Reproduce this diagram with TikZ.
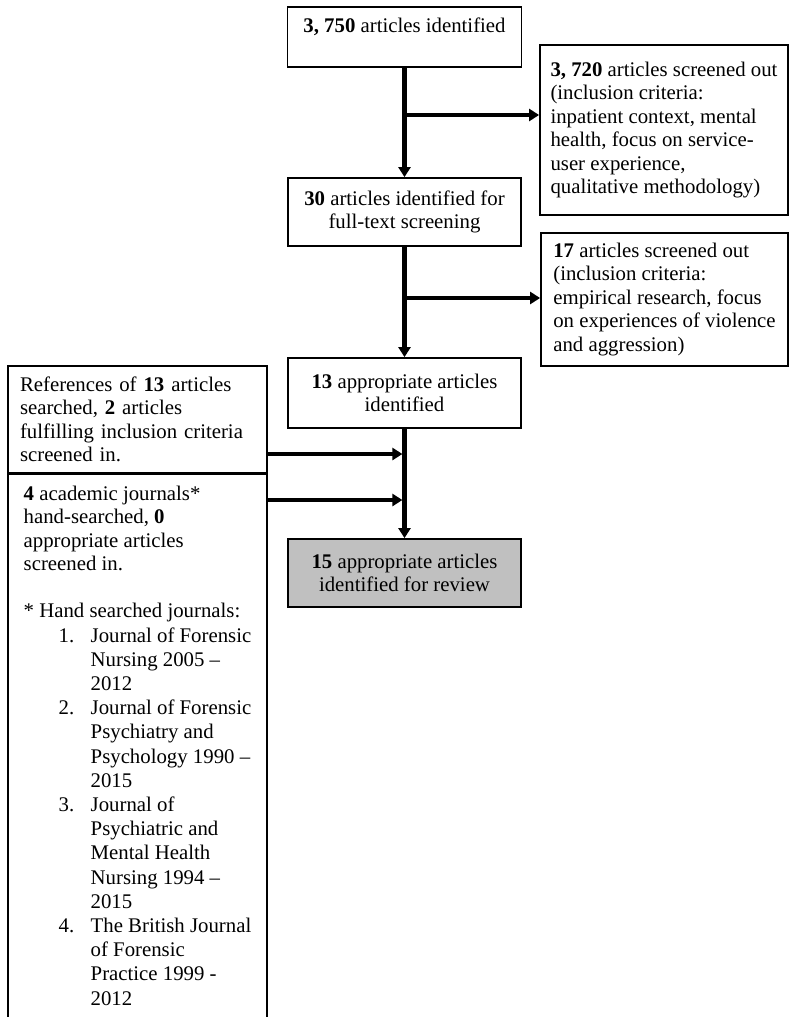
\documentclass[tikz,border=0pt]{standalone}
\usepackage{fontspec}
\setmainfont{Liberation Serif}
\usetikzlibrary{arrows.meta}
\definecolor{boxgray}{RGB}{192,192,192}
\newcommand\fs{\fontsize{20.8}{23.5}\selectfont}
\newcommand\numitem[1]{\hspace*{35pt}\makebox[32pt][l]{#1}}
\newcommand\cont{\hspace*{67pt}}
\begin{document}
\begin{tikzpicture}[x=1pt,y=-1pt,
  box/.style={draw=black, line width=1.8pt, inner sep=0pt, font=\fs, align=center, text=black},
  lbox/.style={box, align=left},
  arr/.style={line width=4.2pt, -{Triangle[length=10pt,width=12pt]}}]
\fill[white] (0,0) rectangle (790,1017);
\useasboundingbox (0,0) rectangle (790,1017);
\node[box, minimum width=234pt, minimum height=60pt] (A) at (404.5,37) {\textbf{3, 750} articles identified\\\mbox{}};
\node[lbox, minimum width=248pt, minimum height=170pt] (B) at (664,130)
  {\textbf{3, 720} articles screened out\\(inclusion criteria:\\inpatient context, mental\\health, focus on service-\\user experience,\\qualitative methodology)};
\node[box, minimum width=233pt, minimum height=68pt] (C) at (404.5,212) {\textbf{30} articles identified for\\full-text screening};
\node[lbox, minimum width=247pt, minimum height=133pt] (D) at (664.5,299.5)
  {\textbf{17} articles screened out\\(inclusion criteria:\\empirical research, focus\\on experiences of violence\\and aggression)};
\node[box, minimum width=233pt, minimum height=70pt] (E) at (404.5,393) {\textbf{13} appropriate articles\\identified};
\node[box, fill=boxgray, minimum width=233pt, minimum height=68pt] (G) at (404.5,573) {\textbf{15} appropriate articles\\identified for review};
\node[lbox, text width=235pt, inner xsep=12pt, minimum height=107pt] (F) at (137.5,419.5)
  {\mbox{References of \textbf{13} articles}\\\mbox{searched, \textbf{2} articles}\\\mbox{fulfilling inclusion criteria}\\\mbox{screened in.}};
\node[lbox, minimum width=259pt, inner ysep=12pt, anchor=north] (H) at (137.5,473)
  {\textbf{4} academic journals*\\
   hand-searched, \textbf{0}\\
   appropriate articles\\
   screened in.\\
   \mbox{}\\
   {}* Hand searched journals:\\[0.7pt]
   \numitem{1.}Journal of Forensic\\[0.7pt]
   \cont Nursing 2005 –\\[0.7pt]
   \cont 2012\\[0.7pt]
   \numitem{2.}Journal of Forensic\\[0.7pt]
   \cont Psychiatry and\\[0.7pt]
   \cont Psychology 1990 –\\[0.7pt]
   \cont 2015\\[0.7pt]
   \numitem{3.}Journal of\\[0.7pt]
   \cont Psychiatric and\\[0.7pt]
   \cont Mental Health\\[0.7pt]
   \cont Nursing 1994 –\\[0.7pt]
   \cont 2015\\[0.7pt]
   \numitem{4.}The British Journal\\[0.7pt]
   \cont of Forensic\\[0.7pt]
   \cont Practice 1999 -\\[0.7pt]
   \cont 2012\\[30pt]
   \mbox{}};
\draw[arr] (A.south) -- (C.north);
\coordinate (b1) at (404.5,115);
\draw[arr] (b1) -- (b1 -| B.west);
\draw[arr] (C.south) -- (E.north);
\coordinate (b2) at (404.5,298);
\draw[arr] (b2) -- (b2 -| D.west);
\draw[arr] (E.south) -- (G.north);
\coordinate (j1) at (402.4,454);
\draw[arr] (j1 -| F.east) -- (j1);
\coordinate (j2) at (402.4,500);
\draw[arr] (j2 -| H.east) -- (j2);
\end{tikzpicture}
\end{document}
